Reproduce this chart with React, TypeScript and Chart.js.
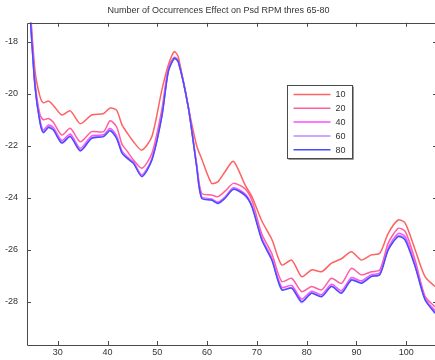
import { useEffect, useRef } from "react";
import { Chart, registerables } from "chart.js";

Chart.register(...registerables);

// Frequency bins shared by every curve
const freqs = [
  24.3, 25.4, 26.4, 27.1, 28.1, 29.1, 30.8, 32.5, 34.5, 36.8, 39.2, 40.5, 41.8, 42.9, 43.9, 45.2,
  46.9, 48.9, 50.9, 52.2, 53.4, 54.2, 56.2, 57.9, 58.9, 60.9, 62.2, 63.6, 65.3, 67.6, 69.0, 71.0,
  73.0, 75.0, 77.0, 79.0, 81.0, 83.0, 85.0, 87.0, 89.0, 91.0, 93.0, 94.7, 96.4, 98.4, 99.8, 101.8,
  103.8, 105.8,
];

// PSD (dB) for each number of occurrences
const occ10 = [
  -16.3, -19.1, -20.1, -20.35, -20.28, -20.45, -20.82, -20.66, -21.15, -20.82, -20.76, -20.55, -20.63, -21.2, -21.5, -21.85,
  -22.17, -21.65, -19.86, -18.9, -18.38, -18.58, -20.5, -22.0, -22.5, -23.45, -23.38, -23.0, -22.6, -23.5, -23.96, -24.9,
  -25.6, -26.59, -26.4, -27.04, -26.78, -26.85, -26.52, -26.35, -26.08, -26.4, -26.2, -26.14, -25.37, -24.86, -24.98, -26.0,
  -27.04, -27.42,
];
const occ20 = [
  -16.4, -19.5, -20.8, -21.0, -20.95, -21.1, -21.59, -21.33, -21.85, -21.46, -21.46, -21.04, -21.27, -21.95, -22.2, -22.55,
  -22.87, -22.3, -20.6, -19.0, -18.6, -18.72, -20.5, -22.7, -23.83, -23.9, -23.96, -23.75, -23.45, -23.65, -24.1, -25.4,
  -26.15, -27.23, -27.1, -27.62, -27.42, -27.55, -27.1, -27.3, -26.72, -26.97, -26.85, -26.78, -25.75, -25.18, -25.3, -26.4,
  -27.8, -28.2,
];
const occ40 = [
  -16.5, -19.65, -21.0, -21.4, -21.2, -21.3, -21.8, -21.55, -22.1, -21.62, -21.58, -21.33, -21.62, -22.2, -22.42, -22.63,
  -23.12, -22.5, -20.8, -19.1, -18.62, -18.75, -20.5, -22.78, -23.97, -24.05, -24.17, -23.97, -23.62, -23.85, -24.3, -25.55,
  -26.32, -27.45, -27.38, -27.9, -27.6, -27.73, -27.33, -27.58, -27.08, -27.2, -26.96, -26.9, -25.93, -25.38, -25.5, -26.55,
  -27.88, -28.35,
];
const occ60 = [
  -16.55, -19.7, -21.08, -21.47, -21.26, -21.36, -21.87, -21.62, -22.17, -21.69, -21.62, -21.39, -21.68, -22.26, -22.46, -22.66,
  -23.16, -22.53, -20.85, -19.13, -18.63, -18.76, -20.5, -22.8, -24.0, -24.08, -24.2, -24.0, -23.66, -23.92, -24.33, -25.6,
  -26.37, -27.52, -27.47, -28.04, -27.66, -27.8, -27.4, -27.65, -27.14, -27.26, -27.0, -26.94, -25.98, -25.46, -25.58, -26.62,
  -27.91, -28.42,
];
const occ80 = [
  -16.6, -19.7, -21.1, -21.5, -21.3, -21.4, -21.9, -21.65, -22.2, -21.72, -21.65, -21.42, -21.72, -22.29, -22.48, -22.68,
  -23.19, -22.55, -20.88, -19.15, -18.64, -18.77, -20.5, -22.81, -24.02, -24.09, -24.22, -24.02, -23.68, -23.9, -24.35, -25.63,
  -26.4, -27.55, -27.48, -28.0, -27.68, -27.81, -27.42, -27.68, -27.17, -27.29, -27.04, -26.97, -26.01, -25.5, -25.63, -26.65,
  -27.93, -28.45,
];

const seriesLabels = ["10", "20", "40", "60", "80"];
const seriesValues = [occ10, occ20, occ40, occ60, occ80];
const seriesColors = ["#ff6262", "#ff5f9f", "#ff4cff", "#bb8cff", "#4a4aff"];

const xTickValues = [30, 40, 50, 60, 70, 80, 90, 100];
const yTickValues = [-28, -26, -24, -22, -20, -18];

const titleText = "Number of Occurrences Effect on Psd RPM thres 65-80";

const AXIS_COLOR = "#4a4a4a";
const TEXT_COLOR = "#333";
const FONT_FAMILY = "'Liberation Sans', Arial, sans-serif";

// Boxed axes with inward tick marks on all four sides
const framePlugin = {
  id: "frame",
  afterDatasetsDraw(chart: any) {
    const { ctx, chartArea, scales } = chart;
    const { left, right, top, bottom } = chartArea;
    const xs = scales.x;
    const ys = scales.y;
    const len = 4;
    ctx.save();
    ctx.strokeStyle = AXIS_COLOR;
    ctx.lineWidth = 1;
    ctx.beginPath();
    ctx.rect(Math.round(left) + 0.5, Math.round(top) + 0.5, Math.round(right - left), Math.round(bottom - top));
    for (const t of xs.ticks) {
      const px = Math.round(xs.getPixelForValue(t.value)) + 0.5;
      ctx.moveTo(px, bottom);
      ctx.lineTo(px, bottom - len);
      ctx.moveTo(px, top);
      ctx.lineTo(px, top + len);
    }
    for (const t of ys.ticks) {
      const py = Math.round(ys.getPixelForValue(t.value)) + 0.5;
      ctx.moveTo(left, py);
      ctx.lineTo(left + len, py);
      ctx.moveTo(right, py);
      ctx.lineTo(right - len, py);
    }
    ctx.stroke();
    ctx.restore();
  },
};

// Legend box inside the plot, upper middle
const boxLegendPlugin = {
  id: "boxLegend",
  afterDraw(chart: any) {
    const { ctx, chartArea } = chart;
    const bx = Math.round(chartArea.left + 260) + 0.5;
    const by = Math.round(chartArea.top + 62) + 0.5;
    const bw = 65;
    const bh = 73;
    ctx.save();
    ctx.fillStyle = "#fff";
    ctx.fillRect(bx, by, bw, bh);
    ctx.strokeStyle = "#999";
    ctx.lineWidth = 1;
    ctx.beginPath();
    ctx.moveTo(bx + bw + 1, by + 1);
    ctx.lineTo(bx + bw + 1, by + bh + 1);
    ctx.lineTo(bx + 1, by + bh + 1);
    ctx.stroke();
    ctx.strokeStyle = AXIS_COLOR;
    ctx.strokeRect(bx, by, bw, bh);
    ctx.font = `9px ${FONT_FAMILY}`;
    ctx.textBaseline = "middle";
    ctx.textAlign = "left";
    seriesLabels.forEach((label, i) => {
      const ry = by + 9 + i * 13.8;
      ctx.strokeStyle = seriesColors[i];
      ctx.lineWidth = 1.5;
      ctx.beginPath();
      ctx.moveTo(bx + 6, ry);
      ctx.lineTo(bx + 43, ry);
      ctx.stroke();
      ctx.fillStyle = TEXT_COLOR;
      ctx.fillText(label, bx + 48, ry + 0.5);
    });
    ctx.restore();
  },
};

export default function App() {
  const canvasRef = useRef<HTMLCanvasElement | null>(null);

  useEffect(() => {
    const canvas = canvasRef.current;
    if (!canvas) return;

    const datasets = seriesLabels.map((label, i) => ({
      label,
      data: freqs.map((f, j) => ({ x: f, y: seriesValues[i][j] })),
      borderColor: seriesColors[i],
      backgroundColor: seriesColors[i],
      borderWidth: 1.5,
      pointRadius: 0,
      tension: 0.25,
      fill: false,
      order: seriesLabels.length - i,
    }));

    const chart = new Chart(canvas, {
      type: "line",
      data: { datasets },
      options: {
        responsive: false,
        animation: false,
        devicePixelRatio: 1,
        layout: { padding: { left: 0, right: 3, top: 0, bottom: 0 } },
        plugins: {
          legend: { display: false },
          tooltip: { enabled: false },
          title: {
            display: true,
            text: titleText,
            color: TEXT_COLOR,
            font: { family: FONT_FAMILY, size: 9, weight: "normal" },
            padding: { top: 5, bottom: 7 },
          },
        },
        scales: {
          x: {
            type: "linear",
            min: 23.8,
            max: 106.2,
            grid: { display: false, drawTicks: false },
            border: { display: false },
            afterBuildTicks: (s: any) => {
              s.ticks = xTickValues.map((v) => ({ value: v }));
            },
            afterFit: (s: any) => {
              s.height = 15;
            },
            ticks: {
              autoSkip: false,
              maxRotation: 0,
              includeBounds: false,
              padding: 2,
              color: TEXT_COLOR,
              font: { family: FONT_FAMILY, size: 9 },
            },
          },
          y: {
            type: "linear",
            min: -29.67,
            max: -17.27,
            grid: { display: false, drawTicks: false },
            border: { display: false },
            afterBuildTicks: (s: any) => {
              s.ticks = yTickValues.map((v) => ({ value: v }));
            },
            afterFit: (s: any) => {
              s.width = 27;
            },
            ticks: {
              autoSkip: false,
              includeBounds: false,
              padding: 9,
              color: TEXT_COLOR,
              font: { family: FONT_FAMILY, size: 9 },
            },
          },
        },
      },
      plugins: [framePlugin, boxLegendPlugin],
    } as any);

    return () => chart.destroy();
  }, []);

  return (
    <div
      style={{
        position: "fixed",
        left: 0,
        top: 0,
        width: 435,
        height: 360,
        overflow: "hidden",
        background: "#fff",
      }}
    >
      <canvas ref={canvasRef} width={440} height={360} style={{ display: "block", width: 440, height: 360 }} />
    </div>
  );
}
